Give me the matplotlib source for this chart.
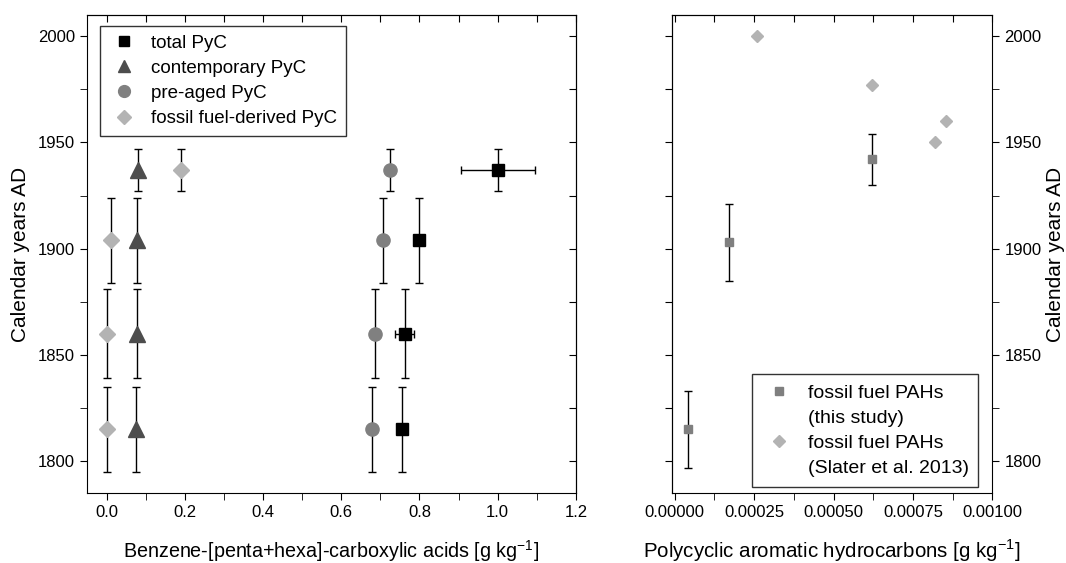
import numpy as np
import matplotlib.pyplot as plt
from matplotlib.lines import Line2D
from matplotlib.ticker import MultipleLocator

plt.rcParams['font.family'] = ['Liberation Sans', 'DejaVu Sans']
plt.rcParams['axes.unicode_minus'] = False

#%% Data
# left panel: benzene-[penta+hexa]-carboxylic acids
years = [1937, 1904, 1860, 1815]
years_err = [10, 20, 21, 20]

total_pyc = [1.0, 0.80, 0.762, 0.755]
total_xerr = [0.095, 0.012, 0.025, 0.0]
contemp_pyc = [0.08, 0.079, 0.077, 0.076]
preaged_pyc = [0.725, 0.708, 0.687, 0.679]
fossil_pyc = [0.19, 0.011, 0.0, 0.0]

# right panel: PAHs
pah_years = [1942, 1903, 1815]
pah_years_err = [12, 18, 18]
pah_this = [0.00062, 0.00017, 0.000042]

slater_years = [2000, 1977, 1960, 1950]
slater_pah = [0.000259, 0.00062, 0.000853, 0.000818]

#%% Figure
fig = plt.figure(figsize=(10.66, 5.63), dpi=100)
ax1 = fig.add_axes([0.0816, 0.1243, 0.4587, 0.849])
ax2 = fig.add_axes([0.630, 0.1243, 0.301, 0.849])

ebkw = dict(ecolor='black', elinewidth=1, capsize=3, capthick=1, linestyle='none')
c_total, c_cont, c_pre, c_fos = 'black', '#4d4d4d', '#808080', '#b3b3b3'

ax1.errorbar(total_pyc, years, xerr=total_xerr, yerr=years_err, marker='s', ms=8,
             color=c_total, zorder=4, **ebkw)
ax1.errorbar(contemp_pyc, years, yerr=years_err, marker='^', ms=11,
             color=c_cont, zorder=3, **ebkw)
ax1.errorbar(preaged_pyc, years, yerr=years_err, marker='o', ms=9.5,
             color=c_pre, zorder=3, **ebkw)
ax1.errorbar(fossil_pyc, years, yerr=years_err, marker='D', ms=8,
             color=c_fos, zorder=3, **ebkw)

ax1.set_xlim(-0.05, 1.2)
ax1.set_ylim(1785, 2010)
ax1.set_xticks(np.arange(0, 1.21, 0.2))
ax1.set_xticklabels(['0.0', '0.2', '0.4', '0.6', '0.8', '1.0', '1.2'])
ax1.xaxis.set_minor_locator(MultipleLocator(0.1))
ax1.yaxis.set_major_locator(MultipleLocator(50))
ax1.yaxis.set_minor_locator(MultipleLocator(25))
ax1.tick_params(which='both', direction='out', labelsize=12, length=5, top=False, right=False)
sec = ax1.secondary_xaxis('top')
sec.xaxis.set_major_locator(MultipleLocator(0.1))
sec.tick_params(direction='in', length=5, labeltop=False)
secy = ax1.secondary_yaxis('right')
secy.yaxis.set_major_locator(MultipleLocator(25))
secy.tick_params(direction='in', length=5, labelright=False)
ax1.set_xlabel('Benzene-[penta+hexa]-carboxylic acids [g kg$^{\\mathregular{-1}}$]',
               fontsize=14.2, labelpad=13)
ax1.set_ylabel('Calendar years AD', fontsize=15, labelpad=6)

h1 = [Line2D([], [], marker='s', ms=7, color=c_total, linestyle='none'),
      Line2D([], [], marker='^', ms=9, color=c_cont, linestyle='none'),
      Line2D([], [], marker='o', ms=8.5, color=c_pre, linestyle='none'),
      Line2D([], [], marker='D', ms=7, color=c_fos, linestyle='none')]
l1 = ['total PyC', 'contemporary PyC', 'pre-aged PyC', 'fossil fuel-derived PyC']
leg1 = ax1.legend(h1, l1, loc='upper left', bbox_to_anchor=(0.026, 0.977), fontsize=13.5,
                  frameon=True, fancybox=False, edgecolor='black', handlelength=1.7,
                  handletextpad=0.6, labelspacing=0.43, borderpad=0.45, borderaxespad=0)
leg1.get_frame().set_linewidth(1)

# right panel
ax2.errorbar(pah_this, pah_years, yerr=pah_years_err, marker='s', ms=6,
             color='#7f7f7f', zorder=3, **ebkw)
ax2.plot(slater_pah, slater_years, 'D', ms=6, color='#b3b3b3', linestyle='none')

ax2.set_xlim(-0.00001, 0.001)
ax2.set_ylim(1785, 2010)
ax2.set_xticks([0, 0.00025, 0.0005, 0.00075, 0.001])
ax2.set_xticklabels(['0.00000', '0.00025', '0.00050', '0.00075', '0.00100'])
ax2.xaxis.set_minor_locator(MultipleLocator(0.000125))
ax2.yaxis.set_major_locator(MultipleLocator(50))
ax2.yaxis.set_minor_locator(MultipleLocator(25))
ax2.yaxis.tick_right()
ax2.yaxis.set_label_position('right')
ax2.tick_params(which='both', direction='out', labelsize=12, length=5, top=False)
sec2 = ax2.secondary_xaxis('top')
sec2.xaxis.set_major_locator(MultipleLocator(0.000125))
sec2.tick_params(direction='in', length=5, labeltop=False)
secy2 = ax2.secondary_yaxis('left')
secy2.yaxis.set_major_locator(MultipleLocator(25))
secy2.tick_params(direction='out', length=5, labelleft=False)
ax2.set_xlabel('Polycyclic aromatic hydrocarbons [g kg$^{\\mathregular{-1}}$]',
               fontsize=14.8, labelpad=13)
ax2.set_ylabel('Calendar years AD', fontsize=15, rotation=90, labelpad=3)

blank = Line2D([], [], linestyle='none')
h2 = [Line2D([], [], marker='s', ms=6, color='#7f7f7f', linestyle='none'), blank,
      Line2D([], [], marker='D', ms=6, color='#b3b3b3', linestyle='none'), blank]
l2 = ['fossil fuel PAHs', '(this study)', 'fossil fuel PAHs', '(Slater et al. 2013)']
leg2 = ax2.legend(h2, l2, loc='lower right', bbox_to_anchor=(0.956, 0.0125),
                  fontsize=14, frameon=True, fancybox=False, edgecolor='black',
                  handlelength=1.78, handletextpad=0.56, labelspacing=0.39,
                  borderpad=0.5, borderaxespad=0)
leg2.get_frame().set_linewidth(1)

plt.savefig('out.png', dpi=100)
